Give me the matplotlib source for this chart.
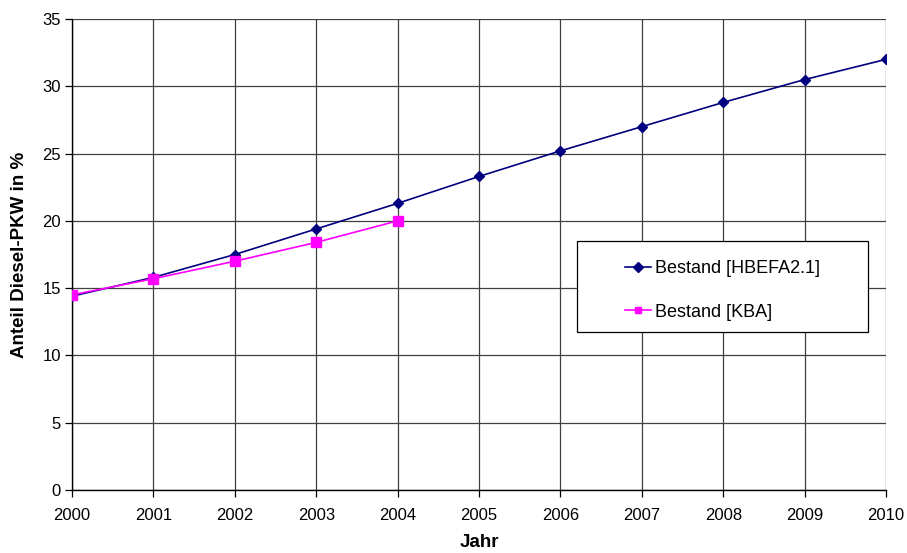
import matplotlib
matplotlib.use("Agg")
import matplotlib.pyplot as plt
from matplotlib.patches import Rectangle

years = [2000, 2001, 2002, 2003, 2004, 2005, 2006, 2007, 2008, 2009, 2010]
hbefa = [14.4, 15.8, 17.5, 19.4, 21.3, 23.3, 25.2, 27.0, 28.8, 30.5, 32.0]
kba_years = [2000, 2001, 2002, 2003, 2004]
kba = [14.5, 15.7, 17.0, 18.4, 20.0]
y_ticks = [0, 5, 10, 15, 20, 25, 30, 35]

plt.rcParams['font.family'] = ['Liberation Sans', 'DejaVu Sans']

W, H = 907, 553
fig = plt.figure(figsize=(W / 100, H / 100), dpi=100)
L, R, T, B = 72, 886, 19, 490
ax = fig.add_axes([L / W, 1 - B / H, (R - L) / W, (B - T) / H])

ax.plot(years, hbefa, color='#000080', marker='D', markersize=5, linewidth=1.2,
        label='Bestand [HBEFA2.1]', zorder=3)
ax.plot(kba_years, kba, color='#FF00FF', marker='s', markersize=7, linewidth=1.2,
        label='Bestand [KBA]', zorder=4)

ax.set_xlim(2000, 2010)
ax.set_ylim(0, 35)
ax.set_xticks(years)
ax.set_yticks(y_ticks)
ax.grid(True, color='#404040', linewidth=0.9)
ax.set_axisbelow(True)
ax.tick_params(axis='both', labelsize=12, direction='out', length=5, width=0.9, colors='black')
ax.tick_params(axis='x', pad=8)
ax.tick_params(axis='y', pad=3)

for side in ['top', 'right']:
    ax.spines[side].set_visible(False)
for side in ['left', 'bottom']:
    ax.spines[side].set_color('black')
    ax.spines[side].set_linewidth(1.0)

ax.set_xlabel('Jahr', fontsize=13.5, fontweight='bold', labelpad=8)
ax.set_ylabel('Anteil Diesel-PKW in %', fontsize=13.5, fontweight='bold', labelpad=10)

# legend box drawn in figure pixels
fx0, fx1, fy0, fy1 = 577, 868, 241, 332
box = Rectangle((fx0 / W, 1 - fy1 / H), (fx1 - fx0) / W, (fy1 - fy0) / H,
                transform=fig.transFigure, facecolor='white', edgecolor='black',
                linewidth=0.9, zorder=5)
fig.patches.append(box)

leg = fig.legend(*ax.get_legend_handles_labels(), loc='center',
                 bbox_to_anchor=((fx0 + fx1) / 2 / W, 1 - ((fy0 + fy1) / 2 + 4) / H),
                 fontsize=13, frameon=False, handlelength=1.45, handletextpad=0.25,
                 labelspacing=1.46, borderpad=0)
leg.set_zorder(6)
for h in leg.legend_handles:
    h.set_markersize(5)

fig.savefig('out.png', dpi=100)
